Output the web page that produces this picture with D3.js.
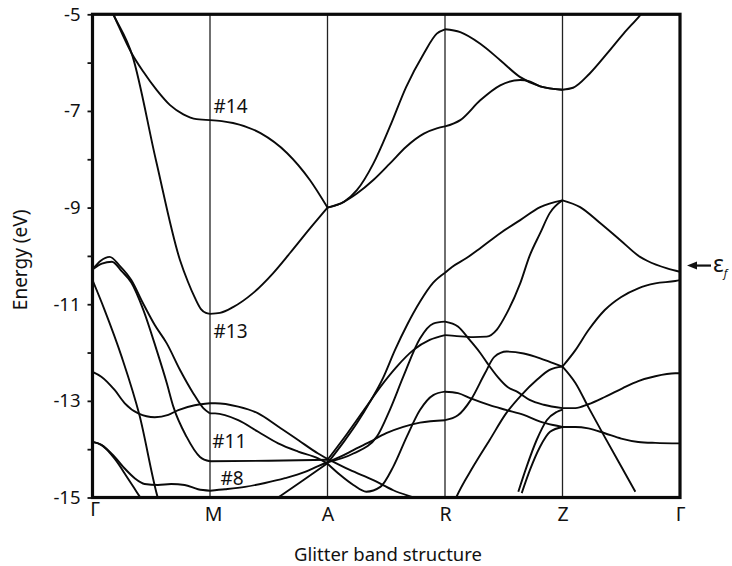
<!DOCTYPE html>
<html>
<head>
<meta charset="utf-8">
<script src="https://cdn.jsdelivr.net/npm/d3@7"></script>
<style>
  body { margin: 0; background: #fff; }
  svg text { font-family: "Noto Sans", "DejaVu Sans", sans-serif; fill: #111; }
</style>
</head>
<body>
<svg id="chart" width="732" height="566"></svg>
<script>
// High-symmetry points along the path (k = 0 … 5)
const kLabels = ["Γ", "M", "A", "R", "Z", "Γ"];
// Energy ticks (eV): every 1 eV, labelled on odd values
const energyTicks = d3.range(-15, -4, 1);

// Band energies as [k, E(eV)] pairs
const band14 = [
  [0.10, -4.6], [0.177, -5.0], [0.334, -5.81], [0.433, -6.19], [0.547, -6.57], [0.66, -6.88],
  [0.773, -7.07], [0.886, -7.17], [1, -7.19],
  [1.1, -7.21], [1.196, -7.25], [1.43, -7.46], [1.655, -7.87], [1.85, -8.43], [2, -9.0],
  [2.14, -8.88], [2.25, -8.71], [2.39, -8.43], [2.53, -8.09], [2.67, -7.74], [2.82, -7.47], [2.93, -7.36], [3, -7.32],
  [3.13, -7.19], [3.30, -6.78], [3.47, -6.47], [3.64, -6.36], [3.72, -6.39], [3.81, -6.49], [4, -6.56]
];
const band13 = [
  [0.10, -4.6], [0.177, -5.0], [0.34, -5.86], [0.54, -8.02], [0.745, -10.09], [0.813, -10.54],
  [0.872, -10.87], [0.923, -11.1], [0.965, -11.18], [1, -11.2],
  [1.085, -11.18], [1.196, -11.06], [1.366, -10.77], [1.536, -10.36], [1.681, -9.94], [1.851, -9.43], [2, -9.0],
  [2.14, -8.88], [2.25, -8.64], [2.39, -8.09], [2.53, -7.33], [2.67, -6.50], [2.82, -5.81], [2.93, -5.40], [3, -5.31],
  [3.13, -5.37], [3.30, -5.61], [3.47, -5.95], [3.64, -6.30], [3.81, -6.49], [4, -6.56],
  [4.09, -6.52], [4.23, -6.23], [4.38, -5.81], [4.52, -5.40], [4.66, -5.02], [4.75, -4.75]
];
const bandFermi = [
  [1.5, -15.13], [1.579, -15.0], [1.79, -14.65], [2, -14.29],
  [2.132, -13.87], [2.251, -13.46], [2.362, -13.02], [2.472, -12.53], [2.574, -11.95], [2.677, -11.43],
  [2.787, -10.95], [2.898, -10.56], [3, -10.35],
  [3.06, -10.23], [3.18, -10.05], [3.30, -9.84], [3.47, -9.53], [3.64, -9.26], [3.81, -8.99], [4, -8.85],
  [4.15, -8.99], [4.32, -9.32], [4.49, -9.67], [4.66, -10.02], [4.72, -10.1], [4.89, -10.26], [5, -10.33]
];
const band11 = [
  [0, -10.28], [0.08, -10.16], [0.165, -10.12], [0.25, -10.32], [0.33, -10.55], [0.43, -11.1],
  [0.546, -11.95], [0.632, -12.63], [0.688, -13.12], [0.80, -13.74], [0.915, -14.16], [1, -14.25],
  [1.5, -14.24], [2, -14.22],
  [2.17, -13.67], [2.31, -13.19], [2.45, -12.71], [2.59, -12.29], [2.73, -11.95], [2.87, -11.74], [3, -11.64],
  [3.10, -11.66], [3.24, -11.68], [3.355, -11.67], [3.44, -11.53], [3.525, -11.19], [3.64, -10.57],
  [3.72, -10.0], [3.81, -9.53], [3.89, -9.12], [4, -8.85]
];
const band12 = [
  [0, -10.28], [0.07, -10.1], [0.146, -10.02], [0.23, -10.2], [0.33, -10.5], [0.43, -10.98], [0.53, -11.43],
  [0.632, -11.81], [0.745, -12.36], [0.857, -12.84], [0.943, -13.15], [1, -13.26],
  [1.043, -13.26], [1.24, -13.40], [1.41, -13.64], [1.58, -13.88], [1.75, -14.05], [1.92, -14.19], [2, -14.3],
  [2.106, -14.53], [2.22, -14.74], [2.33, -14.88], [2.45, -14.78], [2.56, -14.36], [2.675, -13.74],
  [2.787, -13.19], [2.90, -12.88], [3, -12.81],
  [3.11, -12.84], [3.22, -12.95], [3.38, -13.09], [3.525, -13.19], [3.67, -13.29], [3.81, -13.43], [3.92, -13.50], [4, -13.54],
  [4.11, -13.54], [4.22, -13.57], [4.36, -13.67], [4.50, -13.78], [4.645, -13.85], [4.79, -13.87], [5, -13.88]
];
const band10 = [
  [2, -14.27], [2.22, -14.09], [2.42, -13.74], [2.53, -13.19], [2.645, -12.50], [2.787, -11.71], [2.90, -11.40], [3, -11.36],
  [3.11, -11.46], [3.21, -11.74], [3.30, -12.01], [3.36, -12.22], [3.45, -12.51], [3.53, -12.71], [3.62, -12.82],
  [3.72, -12.98], [3.84, -13.08], [4, -13.15],
  [4.11, -13.15], [4.22, -13.07], [4.36, -12.92], [4.51, -12.74], [4.645, -12.59], [4.79, -12.49], [4.96, -12.43], [5, -12.43]
];
const band9 = [
  [0, -12.4], [0.075, -12.5], [0.19, -12.78], [0.275, -13.05], [0.39, -13.26], [0.53, -13.34], [0.645, -13.29],
  [0.73, -13.19], [0.87, -13.09], [1, -13.05],
  [1.043, -13.05], [1.24, -13.12], [1.41, -13.26], [1.58, -13.53], [1.75, -13.81], [1.92, -14.09], [2, -14.2],
  [2.19, -14.43], [2.39, -14.64], [2.56, -14.85], [2.73, -15.0], [2.85, -15.1]
];
const band8 = [
  [0, -13.85], [0.075, -13.91], [0.189, -14.16], [0.274, -14.40], [0.359, -14.60], [0.444, -14.72], [0.557, -14.74],
  [0.67, -14.72], [0.784, -14.74], [0.898, -14.83], [1, -14.86],
  [1.128, -14.83], [1.298, -14.78], [1.468, -14.70], [1.638, -14.60], [1.809, -14.47], [1.92, -14.35], [2, -14.27],
  [2.106, -14.16], [2.22, -14.02], [2.36, -13.85], [2.50, -13.67], [2.645, -13.54], [2.787, -13.45], [3, -13.40],
  [3.11, -13.30], [3.22, -12.98], [3.34, -12.43], [3.42, -12.09], [3.525, -11.98], [3.67, -12.02], [3.81, -12.12], [3.92, -12.22], [4, -12.29],
  [4.11, -11.95], [4.22, -11.54], [4.36, -11.12], [4.50, -10.85], [4.645, -10.67], [4.79, -10.57], [4.96, -10.52], [5, -10.50]
];
const band7 = [
  [0, -13.85], [0.075, -13.91], [0.19, -14.2], [0.30, -14.6], [0.38, -14.9], [0.42, -15.05]
];
const band6 = [
  [0, -10.5], [0.1, -11.1], [0.25, -12.1], [0.4, -13.3], [0.555, -15.0], [0.58, -15.2]
];
const bandZa = [
  [3.06, -15.2], [3.095, -15.0], [3.24, -14.36], [3.38, -13.81], [3.52, -13.26], [3.65, -12.88], [3.78, -12.57], [3.89, -12.36], [4, -12.29],
  [4.11, -12.63], [4.22, -13.13], [4.36, -13.75], [4.50, -14.36], [4.62, -14.88]
];
const bandZb = [
  [3.624, -14.88], [3.695, -14.36], [3.78, -13.81], [3.866, -13.40], [3.95, -13.23], [4, -13.18]
];
const bandZc = [
  [3.653, -14.91], [3.723, -14.43], [3.809, -13.95], [3.894, -13.64], [4, -13.54]
];

const bands = [band14, band13, bandFermi, band11, band12, band10, band9, band8, band7, band6, bandZa, bandZb, bandZc];

// Band labels placed in (k, E) coordinates
const bandLabels = [
  { text: "#14", k: 1.03, e: -7.04 },
  { text: "#13", k: 1.03, e: -11.70 },
  { text: "#11", k: 1.02, e: -13.98 },
  { text: "#8",  k: 1.09, e: -14.74 }
];
const fermiLevel = -10.2;

const svg = d3.select("#chart");
const x = d3.scaleLinear().domain([0, 5]).range([92.5, 680]);
const y = d3.scaleLinear().domain([-15, -5]).range([497.5, 14.3]);

svg.append("defs").append("clipPath").attr("id", "plot-clip")
  .append("rect")
  .attr("x", x(0)).attr("y", y(-5))
  .attr("width", x(5) - x(0)).attr("height", y(-15) - y(-5));

// Vertical lines at the interior symmetry points
svg.append("g")
  .selectAll("line")
  .data(d3.range(1, 5))
  .join("line")
  .attr("x1", d => x(d)).attr("x2", d => x(d))
  .attr("y1", y(-5)).attr("y2", y(-15))
  .attr("stroke", "#222").attr("stroke-width", 1.3);

// Split every band at the symmetry points so each segment is smoothed on its own
function segments(band) {
  const out = [];
  let cur = [band[0]];
  for (let i = 1; i < band.length; i++) {
    cur.push(band[i]);
    if (Number.isInteger(band[i][0]) && i < band.length - 1) {
      out.push(cur);
      cur = [band[i]];
    }
  }
  out.push(cur);
  return out.filter(s => s.length > 1);
}

const line = d3.line()
  .x(d => x(d[0]))
  .y(d => y(d[1]))
  .curve(d3.curveMonotoneX);

svg.append("g")
  .attr("clip-path", "url(#plot-clip)")
  .selectAll("path")
  .data(bands.flatMap(segments))
  .join("path")
  .attr("d", line)
  .attr("fill", "none")
  .attr("stroke", "#0a0a0a")
  .attr("stroke-width", 1.9)
  .attr("stroke-linejoin", "round");

// Frame
svg.append("rect")
  .attr("x", x(0)).attr("y", y(-5))
  .attr("width", x(5) - x(0)).attr("height", y(-15) - y(-5))
  .attr("fill", "none").attr("stroke", "#0a0a0a").attr("stroke-width", 3.2);

// Energy axis
const yAxis = svg.append("g")
  .attr("transform", `translate(${x(0)},0)`)
  .call(d3.axisLeft(y)
    .tickValues(energyTicks)
    .tickSize(5)
    .tickPadding(7)
    .tickFormat(d => Math.abs(d) % 2 === 1 ? "-" + Math.abs(d) : ""));
yAxis.select(".domain").remove();
yAxis.selectAll(".tick line").attr("stroke", "#111").attr("stroke-width", 1.8);
yAxis.selectAll(".tick text")
  .attr("font-size", 18.5).attr("fill", "#111")
  .style("font-family", "'Noto Sans', sans-serif");

// Symmetry point labels
const xAxis = svg.append("g")
  .attr("transform", `translate(0,${y(-15)})`)
  .call(d3.axisBottom(x)
    .tickValues(d3.range(0, 6))
    .tickSize(0)
    .tickPadding(10)
    .tickFormat(i => kLabels[i]));
xAxis.select(".domain").remove();
xAxis.selectAll(".tick text")
  .attr("font-size", 19.5).attr("fill", "#111")
  .style("font-family", "'Noto Sans', sans-serif");
xAxis.selectAll(".tick text").filter(i => i === 0).attr("dy", "0.45em").attr("dx", 2);
xAxis.selectAll(".tick text").filter(i => i === 1).attr("dx", 3);

// Band numbers
svg.append("g")
  .selectAll("text")
  .data(bandLabels)
  .join("text")
  .attr("x", d => x(d.k))
  .attr("y", d => y(d.e))
  .attr("font-size", 19)
  .text(d => d.text);

// Axis titles
svg.append("text")
  .attr("transform", `translate(27,${(y(-5) + y(-15)) / 2 + 4}) rotate(-90)`)
  .attr("text-anchor", "middle")
  .attr("font-size", 19)
  .text("Energy (eV)");

svg.append("text")
  .attr("x", 388).attr("y", 561)
  .attr("text-anchor", "middle")
  .attr("font-size", 18.5)
  .text("Glitter band structure");

// Fermi level marker
const fy = y(fermiLevel);
svg.append("line")
  .attr("x1", 694).attr("x2", 711)
  .attr("y1", fy).attr("y2", fy)
  .attr("stroke", "#111").attr("stroke-width", 2.2);
svg.append("path")
  .attr("d", `M687,${fy} L697,${fy - 4} L697,${fy + 4} Z`)
  .attr("fill", "#111");
const ef = svg.append("text")
  .attr("x", 713).attr("y", fy + 6)
  .attr("font-size", 23);
ef.append("tspan").text("ε");
ef.append("tspan").attr("font-size", 11).attr("dy", 5).attr("font-style", "italic").text("f");
</script>
</body>
</html>
